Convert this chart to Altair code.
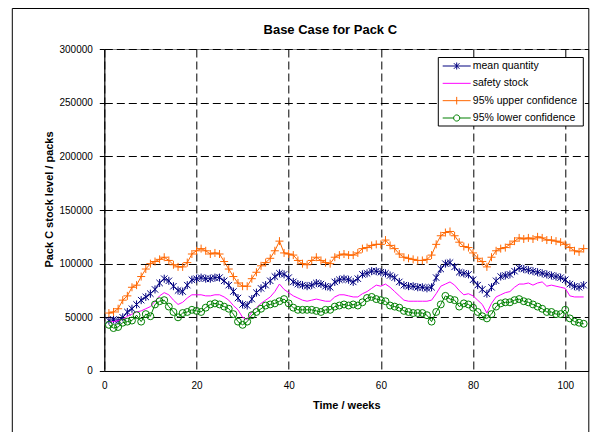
import altair as alt
import pandas as pd

weeks = list(range(1, 105))

# values in thousands of packs
mean_quantity = [47, 48, 47, 50, 55, 58, 62, 66, 69, 72,
                 76, 82, 86, 84, 79, 75, 74, 80, 85, 86,
                 87, 86, 86, 87, 87, 84, 80, 74, 68, 62,
                 61, 67, 73, 77, 80, 84, 88, 91, 90, 87,
                 83, 81, 80, 79, 80, 82, 81, 79, 78, 83,
                 85, 86, 85, 83, 86, 90, 91, 93, 93, 92,
                 91, 89, 87, 83, 80, 79, 79, 78, 78, 77,
                 78, 87, 95, 100, 101, 97, 92, 91, 90, 85,
                 80, 76, 72, 78, 84, 88, 89, 90, 93, 96,
                 95, 94, 93, 92, 91, 90, 89, 88, 87, 85,
                 81, 79, 78, 80]
safety_stock = [46, 46, 47, 48, 51, 53, 55, 56, 58, 60,
                65, 70, 73, 71, 66, 62, 64, 68, 71, 71,
                71, 70, 70, 71, 71, 69, 66, 61, 57, 50,
                48, 55, 59, 63, 66, 69, 74, 81, 76, 73,
                70, 68, 66, 65, 66, 67, 66, 65, 65, 69,
                71, 71, 70, 69, 69, 72, 74, 77, 80, 79,
                81, 78, 74, 70, 66, 65, 65, 65, 65, 65,
                66, 72, 79, 81, 83, 80, 75, 71, 72, 70,
                66, 62, 54, 63, 69, 71, 73, 74, 78, 81,
                81, 82, 80, 82, 83, 79, 80, 79, 78, 77,
                70, 69, 69, 69]
upper_conf = [54, 55, 58, 66, 70, 78, 80, 88, 95, 100,
              102, 104, 106, 103, 99, 97, 97, 101, 109, 112,
              114, 112, 109, 110, 109, 102, 95, 88, 82, 79,
              79, 86, 92, 98, 101, 105, 112, 121, 110, 109,
              108, 103, 100, 99, 103, 106, 103, 101, 100, 106,
              108, 109, 108, 108, 110, 114, 115, 117, 118, 118,
              122, 117, 114, 109, 106, 105, 104, 103, 103, 104,
              108, 118, 126, 129, 130, 126, 120, 116, 115, 110,
              105, 102, 97, 106, 112, 114, 115, 118, 121, 124,
              123, 124, 123, 125, 124, 122, 122, 121, 120, 118,
              115, 112, 111, 114]
lower_conf = [43, 40, 41, 45, 46, 47, 52, 46, 53, 51,
              62, 65, 66, 60, 55, 50, 54, 55, 57, 56,
              55, 59, 62, 63, 62, 60, 58, 53, 46, 43,
              46, 52, 55, 58, 61, 62, 63, 65, 67, 63,
              59, 57, 57, 57, 57, 56, 55, 57, 57, 60,
              61, 62, 61, 62, 61, 64, 68, 69, 67, 66,
              65, 61, 60, 59, 56, 55, 54, 54, 54, 52,
              46, 55, 62, 70, 67, 66, 60, 63, 62, 59,
              55, 51, 49, 53, 60, 63, 64, 64, 66, 67,
              65, 64, 62, 60, 58, 55, 55, 53, 53, 57,
              49, 46, 45, 44]

series_names = ["mean quantity", "safety stock", "95% upper confidence", "95% lower confidence"]
series_colors = ["#000080", "#FF00FF", "#FF6600", "#008000"]
x_ticks = [0, 20, 40, 60, 80, 100]
y_ticks = [0, 50000, 100000, 150000, 200000, 250000, 300000]
chart_title = ["Base Case for Pack C"]

FONT = "Liberation Sans"

rows = []
for name, vals in zip(series_names, [mean_quantity, safety_stock, upper_conf, lower_conf]):
    for w, v in zip(weeks, vals):
        rows.append({"week": w, "value": v * 1000, "series": name})
df = pd.DataFrame(rows)

color = alt.Color("series:N", scale=alt.Scale(domain=series_names, range=series_colors), legend=None)
x_enc = alt.X("week:Q", scale=alt.Scale(domain=[0, 105], nice=False, zero=False),
              axis=alt.Axis(values=x_ticks, title="Time / weeks", grid=True, gridDash=[8, 4],
                            gridColor="black", gridOpacity=1, tickSize=0, labelPadding=10,
                            labelFontSize=10, titleFontSize=11, titleFontWeight="bold",
                            titleY=29, titleBaseline="top", labelFlush=False))
y_enc = alt.Y("value:Q", scale=alt.Scale(domain=[0, 300000], nice=False),
              axis=alt.Axis(values=y_ticks, format="d", title="Pack C stock level / packs",
                            grid=True, gridDash=[8, 4], gridColor="black", gridOpacity=1,
                            tickSize=5, labelPadding=7, labelFontSize=10, titleFontSize=11,
                            titleFontWeight="bold", titleX=-55, titleY=150, titleAngle=270,
                            titleBaseline="middle", titleAlign="center"))

asterisk = "M0,-1V1M-0.8,-0.8L0.8,0.8M-0.8,0.8L0.8,-0.8"
plus = "M-1,0H1M0,-1V1"
marker_shapes = {"mean quantity": (asterisk, 64), "95% upper confidence": (plus, 64),
                 "95% lower confidence": ("circle", 48)}

data_layers = []
for name in series_names:
    base = alt.Chart(df).transform_filter(alt.datum.series == name)
    data_layers.append(base.mark_line(strokeWidth=1).encode(x=x_enc, y=y_enc, color=color))
    if name in marker_shapes:
        shp, sz = marker_shapes[name]
        data_layers.append(base.mark_point(shape=shp, size=sz, filled=False, strokeWidth=1,
                                           opacity=1).encode(x=x_enc, y=y_enc, color=color))
data_chart = alt.layer(*data_layers)

one = pd.DataFrame({"k": [0]})
frame = alt.Chart(one).mark_rect(
    fill="transparent", stroke="black", strokeWidth=1).encode(
    x=alt.value(-92), x2=alt.value(484.5), y=alt.value(-40.5), y2=alt.value(420))

title_txt = alt.Chart(pd.DataFrame({"t": chart_title})).mark_text(
    font=FONT, fontSize=13, fontWeight="bold", color="black", align="center",
    baseline="middle").encode(x=alt.value(226), y=alt.value(-19), text="t:N")

# legend
leg_df = pd.DataFrame({"series": series_names})
leg_paths = ["M-1,0H1M0,-0.25V0.25M-0.2,-0.2L0.2,0.2M-0.2,0.2L0.2,-0.2",
             "M-1,0H1",
             "M-1,0H1M0,-0.27V0.27",
             "M-1,0H-0.22M0.22,0H1M-0.22,0A0.22,0.22,0,1,0,0.22,0A0.22,0.22,0,1,0,-0.22,0"]
leg_y = alt.Y("series:N", scale=alt.Scale(domain=series_names, range=[17, 69], padding=0), axis=None)
leg_box = alt.Chart(one).mark_rect(
    fill="white", stroke="black", strokeWidth=1).encode(
    x=alt.value(334), x2=alt.value(479), y=alt.value(8.5), y2=alt.value(77))
leg_sym = alt.Chart(leg_df).mark_point(filled=False, size=784, strokeWidth=1, opacity=1).encode(
    x=alt.value(352.4), y=leg_y, color=color,
    shape=alt.Shape("series:N", scale=alt.Scale(domain=series_names, range=leg_paths), legend=None))
leg_txt = alt.Chart(leg_df).mark_text(align="left", baseline="middle", font=FONT, fontSize=10.5,
                                      color="black").encode(
    x=alt.value(368.5), y=leg_y, text="series:N")
legend = alt.layer(leg_sym, leg_txt)

chart = alt.layer(frame, title_txt, data_chart, leg_box, legend).resolve_scale(y="independent").properties(
    width=484, height=322,
    autosize="none",
    padding={"left": 96.3, "top": 41, "right": 3, "bottom": 61},
).configure_axis(
    labelFont=FONT, titleFont=FONT, labelColor="black", titleColor="black",
    domainColor="black", tickColor="black", domainWidth=1
).configure_view(stroke="#888888", strokeWidth=1)

chart.save("out.html", embed_options={"renderer": "svg", "actions": False})
